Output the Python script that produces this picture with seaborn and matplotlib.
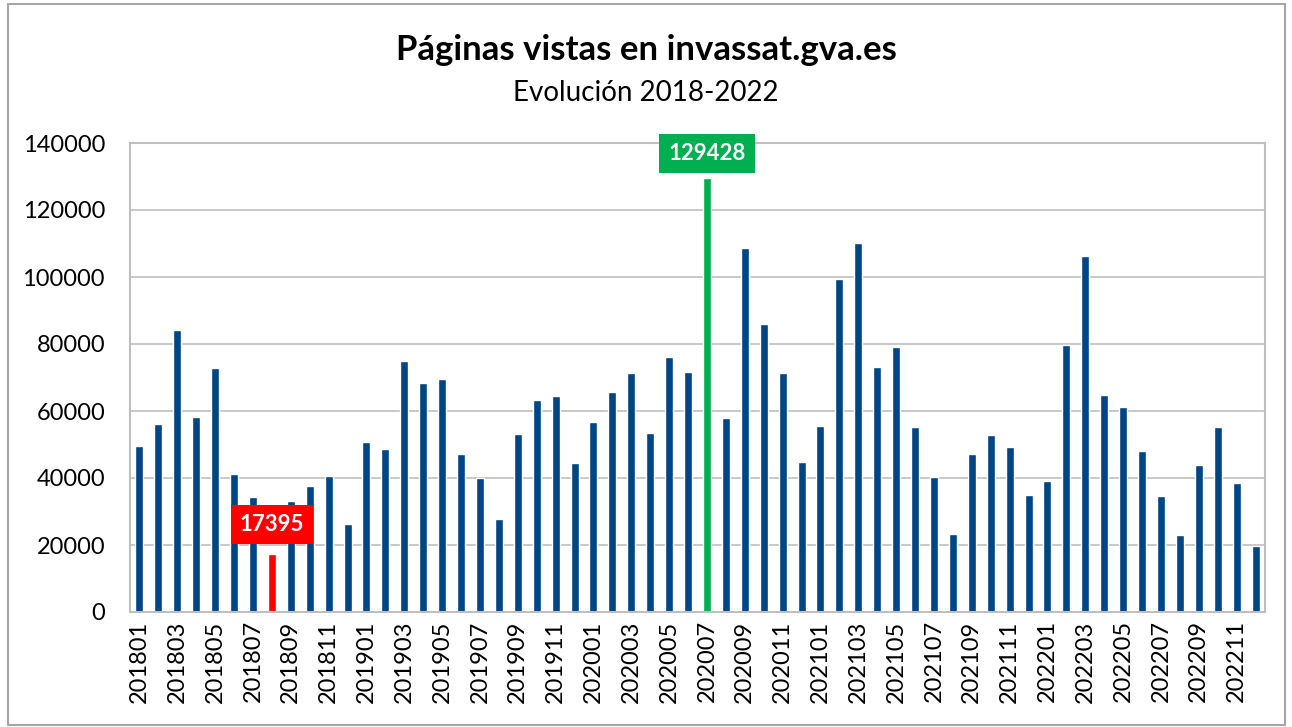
import pandas as pd
import matplotlib.pyplot as plt
import seaborn as sns
from matplotlib.patches import Rectangle

# ── datos ─────────────────────────────────────────────────────────────────────
years = ["2018", "2019", "2020", "2021", "2022"]
months = [f"{m:02d}" for m in range(1, 13)]
periods = [y + m for y in years for m in months]

visits_2018 = [49500, 56000, 84100, 58300, 72700, 41200, 34300, 17395, 33100, 37600, 40500, 26200]
visits_2019 = [50700, 48600, 74900, 68300, 69500, 47100, 39900, 27900, 53100, 63300, 64400, 44600]
visits_2020 = [56800, 65700, 71300, 53300, 76200, 71600, 129428, 57800, 108700, 86000, 71200, 44900]
visits_2021 = [55500, 99300, 110200, 73000, 79000, 55100, 40400, 23200, 47100, 52800, 49200, 34800]
visits_2022 = [39100, 79800, 106200, 64800, 61200, 48200, 34500, 23100, 44000, 55300, 38400, 19600]
visits = visits_2018 + visits_2019 + visits_2020 + visits_2021 + visits_2022

BLUE = "#004586"
GREEN = "#00B050"
RED = "#FF0000"

df = pd.DataFrame({"mes": periods, "visitas": visits})
max_i = df["visitas"].idxmax()
min_i = df["visitas"].idxmin()
palette = {p: BLUE for p in periods}
palette[periods[max_i]] = GREEN
palette[periods[min_i]] = RED

sns.set_style("white")
plt.rcParams["font.family"] = ["Lato", "DejaVu Sans"]
plt.rcParams["text.color"] = "black"
plt.rcParams["xtick.color"] = "black"
plt.rcParams["ytick.color"] = "black"

fig = plt.figure(figsize=(12.92, 7.27), dpi=100)
ax = fig.add_axes([130 / 1292, 1 - 612 / 727, 1135 / 1292, 469 / 727])

sns.barplot(data=df, x="mes", y="visitas", hue="mes", palette=palette,
            legend=False, width=0.42, saturation=1, ax=ax)

ax.set_ylim(0, 140000)
ax.set_xlim(-0.5, len(periods) - 0.5)
ax.set_yticks(range(0, 140001, 20000))
ax.set_yticklabels([str(v) for v in range(0, 140001, 20000)], fontsize=17)
ax.yaxis.grid(True, color="#BFBFBF", linewidth=1.2)
ax.set_axisbelow(True)
ax.set_xticks(range(0, len(periods), 2))
ax.set_xticklabels(periods[::2], rotation=90, fontsize=17)
ax.tick_params(axis="y", length=0, pad=18)
ax.tick_params(axis="x", length=0, pad=6)
ax.set_xlabel("")
ax.set_ylabel("")
for side in ax.spines.values():
    side.set_color("#BFBFBF")
    side.set_linewidth(1.5)

# etiquetas de máximo y mínimo
ax.annotate(str(visits[max_i]), xy=(max_i, visits[max_i]), xytext=(0, 18),
            textcoords="offset points", ha="center", va="center",
            fontsize=16, fontweight="bold", color="white",
            bbox=dict(boxstyle="square,pad=0.4", fc=GREEN, ec="none"))
ax.annotate(str(visits[min_i]), xy=(min_i, visits[min_i]), xytext=(0, 21),
            textcoords="offset points", ha="center", va="center",
            fontsize=16, fontweight="bold", color="white",
            bbox=dict(boxstyle="square,pad=0.4", fc=RED, ec="none"))

fig.text(0.5, 1 - 50 / 727, "Páginas vistas en invassat.gva.es", ha="center", va="center",
         fontsize=25, fontweight="bold")
fig.text(0.5, 1 - 93 / 727, "Evolución 2018-2022", ha="center", va="center", fontsize=20)

# borde exterior del gráfico
fig.patches.append(Rectangle((8 / 1292, 2 / 727), 1277 / 1292, 721 / 727,
                             transform=fig.transFigure, fill=False,
                             edgecolor="#A6A6A6", linewidth=1.5))

fig.savefig("out.png", dpi=100)
